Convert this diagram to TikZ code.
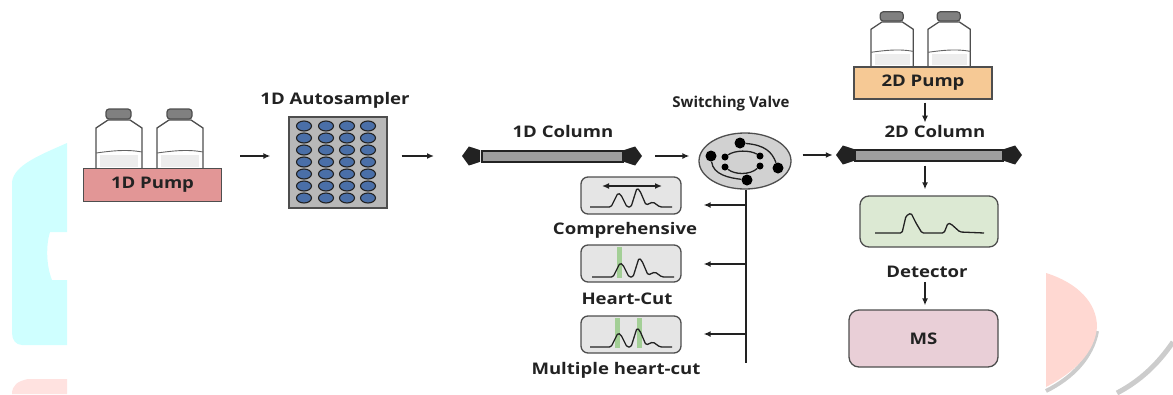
\documentclass[tikz,border=0pt]{standalone}
\usepackage{fontspec}
\setmainfont{Open Sans}[FakeStretch=1.16]
\newfontfamily\valvefont{Open Sans}
\usetikzlibrary{arrows.meta,shapes.geometric}
\definecolor{ink}{HTML}{222222}
\definecolor{pumpa}{HTML}{E29696}
\definecolor{pumpb}{HTML}{F6C995}
\definecolor{detfill}{HTML}{DCE9D3}
\definecolor{msfill}{HTML}{E9CFD7}
\definecolor{well}{HTML}{4A6FA8}
\definecolor{cut}{HTML}{A3CF96}
\definecolor{rimcyan}{HTML}{CFFFFF}
\definecolor{rimpink}{HTML}{FFE2E0}
\definecolor{rimred}{HTML}{FFD8D2}
\tikzset{
  lbl/.style={font=\fontsize{16}{19}\selectfont\bfseries,text=ink,inner sep=0pt},
  flow/.style={->,ink,line width=1.4pt},
  pumpbox/.style={draw=ink!80,line width=1.3pt,inner sep=0pt},
  modebox/.style={draw=ink!80,line width=1.3pt,rounded corners=7pt,fill=black!10,inner sep=0pt,minimum width=100pt,minimum height=37pt},
  capnode/.style={regular polygon,regular polygon sides=5,fill=ink,inner sep=0pt,minimum size=20pt},
  tube/.style={draw=ink,line width=1.3pt,fill=black!38,inner sep=0pt},
  port/.style={circle,fill=black,inner sep=0pt},
}
\newcommand{\bottle}[3]{
  \begin{scope}[shift={(#1,#2)},scale=#3]
  \fill[black!7] (4,-2) rectangle (42,-14);
  \draw[ink!80,line width=1.3pt] (0,0)--(0,-41)--(12,-49)--(34,-49)--(46,-41)--(46,0);
  \draw[ink!70,line width=.9pt] (0,-16) .. controls (15,-18) and (30,-20) .. (46,-17);
  \draw[ink!80,line width=1.2pt,fill=black!50,rounded corners=3pt] (10,-50) rectangle (35,-60);
  \end{scope}
}
\newcommand{\trace}[2]{
  \draw[ink,line width=1.3pt,rounded corners=1.5pt] (#1,#2) -- +(21,0) -- +(28,-14) -- +(31,-12) -- +(37,0) -- +(41,0) -- +(47,-19) -- +(50,-16) -- +(56,-2) -- +(63,-5) -- +(70,0) -- +(82,0);
}
\begin{document}
\begin{tikzpicture}[x=1pt,y=-1pt,>={Latex[length=7pt,width=6pt]}]
\useasboundingbox (0,0) rectangle (1173,394);
% faint shapes at the rim
\fill[rimcyan] (67,143) .. controls (40,155) and (14,165) .. (12,182) -- (12,333) .. controls (12,340) and (16,345) .. (22,345) -- (67,345) -- (67,280) -- (52,280) .. controls (46,265) and (46,245) .. (50,232) -- (67,232) -- cycle;
\fill[rimpink] (67,379) -- (28,379) .. controls (18,381) and (12,385) .. (12,394) -- (67,394) -- cycle;
\draw[black!20,line width=4pt] (1097,331) .. controls (1092,358) and (1072,378) .. (1046,391);
\fill[rimred] (1046,273) .. controls (1078,283) and (1097,303) .. (1097,327) .. controls (1095,352) and (1075,372) .. (1046,387) -- cycle;
\draw[black!20,line width=5pt] (1173,342) .. controls (1158,364) and (1140,381) .. (1117,393);
% pumps
\bottle{96}{169}{1}
\bottle{157}{169}{1}
\bottle{871}{67}{.92}
\bottle{928}{67}{.92}
\node[pumpbox,fill=pumpa,minimum width=138pt,minimum height=33pt,lbl] (pump1) at (152.5,185) {1D Pump};
\node[pumpbox,fill=pumpb,minimum width=138pt,minimum height=32pt,lbl] (pump2) at (923,83) {2D Pump};
% autosampler
\node[draw=ink!80,line width=1.3pt,fill=black!28,minimum width=98pt,minimum height=91pt,inner sep=0pt] (sampler) at (338,162.5) {};
\node[lbl] (samplerlab) at (335,100) {1D Autosampler};
\foreach \i/\x in {0/304,1/326,2/347,3/368} {
  \foreach \j/\y in {0/126,1/138,2/150,3/162,4/174,5/186,6/198} {
    \node[ellipse,draw=ink,line width=1.1pt,fill=well,minimum width=15pt,minimum height=10pt,inner sep=0pt] (well\i\j) at (\x,\y) {};
  }
}
% columns
\node[tube,minimum width=141pt,minimum height=11pt] (tube1) at (552.5,156.5) {};
\node[capnode,shape border rotate=90] (cap1a) at (472,156) {};
\node[capnode,shape border rotate=-90] (cap1b) at (632,156) {};
\node[lbl] (tube1lab) at (563,131) {1D Column};
\node[tube,minimum width=148pt,minimum height=11pt] (tube2) at (929,155.5) {};
\node[capnode,shape border rotate=90] (cap2a) at (846,155) {};
\node[capnode,shape border rotate=-90] (cap2b) at (1012,155) {};
\node[lbl] (tube2lab) at (935,131) {2D Column};
% valve
\node[ellipse,draw=ink!80,line width=1.3pt,fill=black!18,minimum width=92pt,minimum height=56pt,inner sep=0pt] (valve) at (745,161) {};
\node[lbl,font=\valvefont\fontsize{15}{18}\selectfont\bfseries] (valvelab) at (731,104) {Switching Valve};
\node[port,minimum size=11pt] (p1) at (740,143) {};
\node[port,minimum size=11pt] (p2) at (711,156) {};
\node[port,minimum size=11pt] (p3) at (778,168) {};
\node[port,minimum size=11pt] (p4) at (747,180) {};
\node[port,minimum size=7pt] (q1) at (725,157) {};
\node[port,minimum size=7pt] (q2) at (760,156) {};
\node[port,minimum size=7pt] (q3) at (725,167) {};
\node[port,minimum size=7pt] (q4) at (760,166) {};
\draw[ink,line width=1.3pt] (p1) .. controls (765,145) and (772,152) .. (p3);
\draw[ink,line width=1.3pt] (p2) .. controls (713,175) and (730,178) .. (p4);
\draw[ink,line width=1.3pt] (q1) .. controls (735,150) and (750,150) .. (q2);
\draw[ink,line width=1.3pt] (q3) .. controls (735,175) and (750,175) .. (q4);
% modes
\node[modebox] (mode1) at (631,195.5) {};
\node[modebox] (mode2) at (631,263.5) {};
\node[modebox] (mode3) at (631,334.5) {};
\fill[cut] (617,247) rectangle (622,278);
\fill[cut] (615,318) rectangle (620,348);
\fill[cut] (637,318) rectangle (642,348);
\trace{590}{207}
\trace{592}{277}
\trace{590}{347}
\coordinate (spanl) at (602,186);
\coordinate (spanr) at (662,186);
\draw[<->,ink,line width=1.4pt] (spanl) -- (spanr);
\node[lbl] (mode1lab) at (625,230) {Comprehensive};
\node[lbl] (mode2lab) at (627,299) {Heart-Cut};
\node[lbl] (mode3lab) at (616,370) {Multiple heart-cut};
% detector and MS
\node[draw=ink!80,line width=1.3pt,rounded corners=9pt,fill=detfill,minimum width=138pt,minimum height=51pt,inner sep=0pt] (det) at (929,221.5) {};
\coordinate (dettrace) at (875,233);
\draw[ink,line width=1.3pt,rounded corners=1.5pt] (dettrace) -- +(27,0) -- +(31,-17) -- +(36,-20) -- +(41,-10) -- +(47,0) -- +(69,0) -- +(73,-10) -- +(76,-9) -- +(85,-1) -- +(109,0);
\node[lbl] (detlab) at (927,272) {Detector};
\node[draw=ink!80,line width=1.3pt,rounded corners=10pt,fill=msfill,minimum width=149pt,minimum height=57pt,inner sep=0pt,lbl] (ms) at (923.5,338.5) {MS};
% connectors
\coordinate (flowx) at (925,0);
\coordinate (busend) at (746,363);
\coordinate (tap1) at (746,205);
\coordinate (tap2) at (746,264);
\coordinate (tap3) at (746,334);
\draw[flow,shorten <=18pt,shorten >=18pt] (pump1.east |- cap1a) -- (sampler.west |- cap1a);
\draw[flow,shorten <=14pt,shorten >=38pt] (sampler.east |- cap1a) -- (cap1a.center);
\draw[flow,shorten <=23pt,shorten >=9pt] (cap1b.center) -- (cap1b -| valve.west);
\draw[flow,shorten <=11pt,shorten >=3pt] (valve.east |- cap2a) -- (cap2a.west);
\draw[flow,shorten <=3pt,shorten >=2pt] (flowx |- pump2.south) -- (flowx |- tube2lab.north);
\draw[flow,shorten <=4pt,shorten >=6pt] (flowx |- tube2.south) -- (flowx |- det.north);
\draw[flow,shorten <=4pt,shorten >=4pt] (flowx |- detlab.south) -- (flowx |- ms.north);
\draw[ink,line width=1.4pt] (busend |- valve.south) -- (busend);
\draw[flow,shorten >=22pt] (tap1) -- (tap1 -| mode1.east);
\draw[flow,shorten >=22pt] (tap2) -- (tap2 -| mode2.east);
\draw[flow,shorten >=22pt] (tap3) -- (tap3 -| mode3.east);
\end{tikzpicture}
\end{document}
